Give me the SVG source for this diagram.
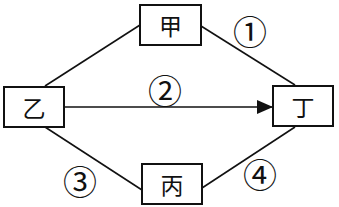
<svg xmlns="http://www.w3.org/2000/svg" width="339" height="207" viewBox="0 0 339 207">
<style>
.box{fill:#fff;stroke:#111;stroke-width:2}
.ln{stroke:#111;stroke-width:1.6;fill:none}
.t{font-family:"Noto Sans CJK SC","Noto Sans CJK JP",sans-serif;font-size:23px;fill:#111;text-anchor:middle;dominant-baseline:central}
.n{font-family:"Noto Sans CJK SC","DejaVu Sans",sans-serif;font-size:34px;fill:#111;text-anchor:middle;dominant-baseline:central}
</style>
<defs>
<marker id="ah" markerWidth="16" markerHeight="14" refX="16" refY="7" orient="auto" markerUnits="userSpaceOnUse">
<path d="M0,0 L16,7 L0,14 Z" fill="#111"/>
</marker>
</defs>
<rect width="339" height="207" fill="#fff"/>
<g id="connectors">
<line class="ln" x1="45" y1="86" x2="140" y2="25"/>
<line class="ln" x1="201" y1="26" x2="295" y2="85"/>
<line class="ln" x1="45" y1="127" x2="142" y2="190"/>
<line class="ln" x1="202" y1="188" x2="295" y2="127"/>
<line class="ln" x1="64" y1="107" x2="273" y2="107" marker-end="url(#ah)"/>
<text class="n" x="250" y="30">①</text>
<text class="n" x="165" y="89">②</text>
<text class="n" x="80" y="180">③</text>
<text class="n" x="260" y="173">④</text>
</g>
<g id="jia"><rect class="box" x="140" y="5" width="61" height="40"/><text class="t" x="170.5" y="25">甲</text></g>
<g id="yi"><rect class="box" x="4" y="87" width="60" height="40"/><text class="t" x="34" y="107">乙</text></g>
<g id="ding"><rect class="box" x="273" y="86" width="60" height="40"/><text class="t" x="303" y="106">丁</text></g>
<g id="bing"><rect class="box" x="142" y="164" width="60" height="40"/><text class="t" x="172" y="184">丙</text></g>
</svg>
